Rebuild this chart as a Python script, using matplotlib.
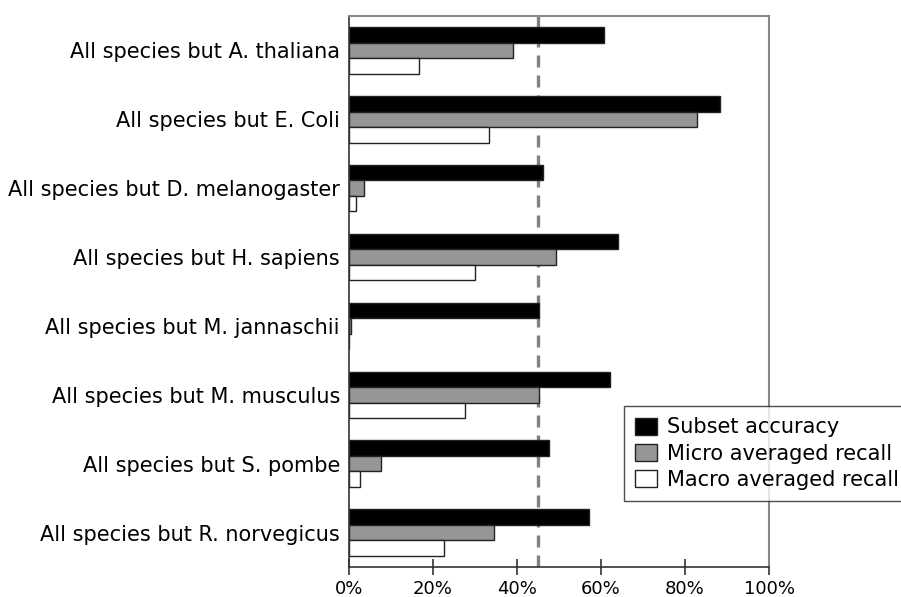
import matplotlib.pyplot as plt
import numpy as np
from matplotlib.ticker import FuncFormatter

especies = ['All species but A. thaliana', 'All species but E. Coli',
            'All species but D. melanogaster', 'All species but H. sapiens',
            'All species but M. jannaschii', 'All species but M. musculus',
            'All species but S. pombe', 'All species but R. norvegicus']

subset_accuracy = [60.7, 88.3, 46.3, 64.0, 45.2, 62.2, 47.7, 57.1]
micro_recall = [39.1, 82.8, 3.5, 49.4, 0.4, 45.2, 7.7, 34.6]
macro_recall = [16.6, 33.3, 1.6, 30.1, 0.1, 27.5, 2.5, 22.7]

umbral = 45

fig = plt.figure(figsize=(9.01, 5.97), dpi=100)
ax = fig.add_axes([349 / 901, 1 - 567 / 597, 420 / 901, 551 / 597])

y = np.arange(len(especies))
alto = 0.225

ax.barh(y - alto, subset_accuracy, height=alto, color='black',
        edgecolor='#222222', linewidth=1, label='Subset accuracy')
ax.barh(y, micro_recall, height=alto, color='#969696',
        edgecolor='#222222', linewidth=1, label='Micro averaged recall')
ax.barh(y + alto, macro_recall, height=alto, color='white',
        edgecolor='#222222', linewidth=1, label='Macro averaged recall')

ax.axvline(umbral, color='#808080', linewidth=2.4, linestyle=(0, (3.6, 2.4)), zorder=0)

ax.set_xlim(0, 100)
ax.set_ylim(len(especies) - 0.5, -0.5)
ax.set_yticks(y)
ax.set_yticklabels(especies, fontsize=15)
ax.set_xticks(np.arange(0, 101, 20))
ax.xaxis.set_major_formatter(FuncFormatter(lambda v, p: f'{v:.0f}%'))
ax.tick_params(axis='x', direction='inout', length=12, width=1.2, color='#333333',
               labelsize=13, pad=3)
ax.tick_params(axis='y', length=0, pad=6.5)

for lado in ['top', 'right']:
    ax.spines[lado].set_color('#888888')
    ax.spines[lado].set_linewidth(1.5)
for lado in ['left', 'bottom']:
    ax.spines[lado].set_color('#333333')
    ax.spines[lado].set_linewidth(1.2)

leg = fig.legend(loc='upper left', bbox_to_anchor=(624 / 901, 1 - 406 / 597),
                 fontsize=15, frameon=True, fancybox=False, edgecolor='#222222',
                 handlelength=1.05, handleheight=0.9, handletextpad=0.45,
                 labelspacing=0.3, borderpad=0.55, borderaxespad=0)
leg.get_frame().set_linewidth(1)

plt.savefig('out.png', dpi=100)
